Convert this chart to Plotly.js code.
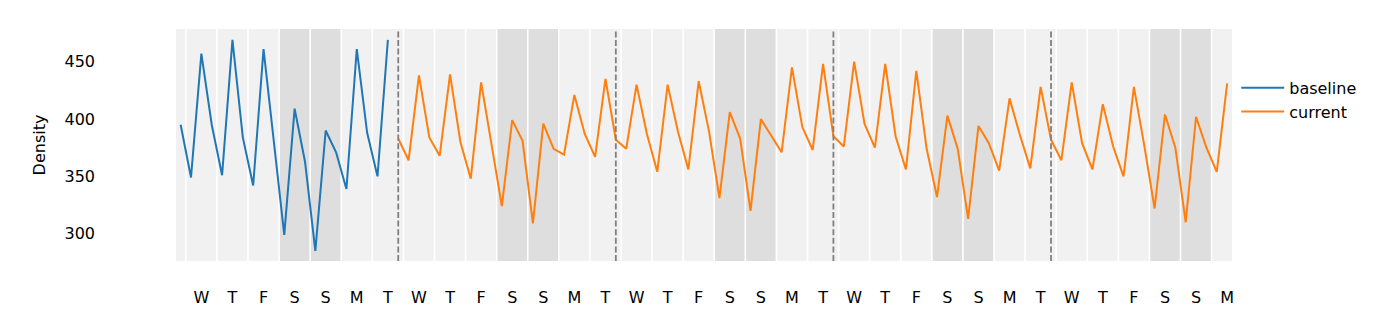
<!DOCTYPE html>
<html><head><meta charset="utf-8">
<script src="https://cdn.plot.ly/plotly-3.0.1.min.js"></script>
<style>html,body{margin:0;padding:0;background:#fff}</style>
</head><body><div id="chart" style="width:1395px;height:335px"></div>
<script>
// ---- data ----
const seriesNames = ['baseline', 'current'];
const baselineStart = '2024-01-02 20:00';
const currentStart = '2024-01-09 20:00';
const stepHours = 8;
const baselineValues = [395, 349, 457, 395, 351, 469, 384, 342, 461, 380, 299, 409, 363, 285, 390, 371, 339, 461, 388, 350, 469];
const currentValues = [383, 364, 438, 384, 368, 439, 380, 348, 432, 379, 324, 399, 381, 309, 396, 374, 369, 421, 387, 367,
  435, 382, 374, 430, 387, 354, 430, 389, 356, 433, 389, 331, 406, 383, 320, 400, 385, 371, 445, 393,
  373, 448, 385, 376, 450, 396, 375, 448, 385, 356, 442, 374, 332, 403, 374, 313, 394, 379, 355, 418,
  386, 357, 428, 382, 364, 432, 379, 356, 413, 376, 350, 428, 377, 322, 404, 375, 310, 402, 375, 354, 431];
const firstDay = '2024-01-02';
const lastDay = '2024-02-05';
const weekMarkers = ['2024-01-09 20:00', '2024-01-16 20:00', '2024-01-23 20:00', '2024-01-30 20:00'];
const dayLetters = ['S', 'M', 'T', 'W', 'T', 'F', 'S']; // indexed by weekday (Sun=0)
const xRange = ['2024-01-02 16:25', '2024-02-05 15:45'];
const yRange = [276.2, 478.5];
const yTicks = [300, 350, 400, 450];

// ---- helpers ----
const HOUR = 3600e3, DAY = 24 * HOUR;
const toMs = s => Date.parse(s.length > 10 ? s.replace(' ', 'T') + ':00Z' : s + 'T00:00:00Z');
const fmt = ms => new Date(ms).toISOString().slice(0, 19).replace('T', ' ');
function times(start, n) { const t0 = toMs(start); return Array.from({length: n}, (_, i) => fmt(t0 + i * stepHours * HOUR)); }

const r0 = toMs(xRange[0]), r1 = toMs(xRange[1]);
const d0 = toMs(firstDay), d1 = toMs(lastDay);
const gap = 37 * 60e3; // half-gap between day bands

const shapes = [];
const tickvals = [], ticktext = [];
for (let d = d0; d <= d1; d += DAY) {
  const wd = new Date(d).getUTCDay();
  const weekend = (wd === 0 || wd === 6);
  const a = Math.max(d + gap, r0), b = Math.min(d + DAY - gap, r1);
  shapes.push({type: 'rect', xref: 'x', yref: 'paper', x0: fmt(a), x1: fmt(b), y0: 0, y1: 1,
    fillcolor: weekend ? '#dedede' : '#f1f1f1', line: {width: 0}, layer: 'below'});
  const noon = d + DAY / 2;
  if (noon >= r0 && noon <= r1) { tickvals.push(fmt(noon)); ticktext.push(dayLetters[wd]); }
}
weekMarkers.forEach(m => shapes.push({type: 'line', xref: 'x', yref: 'paper', x0: m, x1: m, y0: 0, y1: 1,
  line: {color: '#808080', width: 1.8, dash: '6px,2.6px'}}));

const traces = [
  {x: times(baselineStart, baselineValues.length), y: baselineValues, name: seriesNames[0], type: 'scatter', mode: 'lines',
   line: {color: '#1f77b4', width: 2}},
  {x: times(currentStart, currentValues.length), y: currentValues, name: seriesNames[1], type: 'scatter', mode: 'lines',
   line: {color: '#ff7f0e', width: 2}}
];

const font = {family: 'DejaVu Sans', size: 16, color: '#000'};
const layout = {
  width: 1395, height: 335,
  margin: {l: 176, r: 163, t: 29, b: 74},
  paper_bgcolor: '#fff', plot_bgcolor: '#fff',
  font: font,
  showlegend: true,
  legend: {x: 1.004, xanchor: 'left', y: 0.82, yanchor: 'top', font: font, itemwidth: 43,
           bgcolor: 'rgba(0,0,0,0)'},
  xaxis: {type: 'date', range: [fmt(r0), fmt(r1)], showgrid: false, zeroline: false, showline: false,
          tickmode: 'array', tickvals: tickvals, ticktext: ticktext, ticks: '', ticklabelstandoff: 25,
          tickfont: font, fixedrange: true},
  yaxis: {range: yRange, tickmode: 'array', tickvals: yTicks, showgrid: false, zeroline: false, showline: false,
          ticks: '', ticklabelstandoff: 80, tickfont: font,
          title: {text: 'Density', font: font, standoff: 14}},
  shapes: shapes
};
Plotly.newPlot('chart', traces, layout, {displayModeBar: false, staticPlot: true});
</script></body></html>
